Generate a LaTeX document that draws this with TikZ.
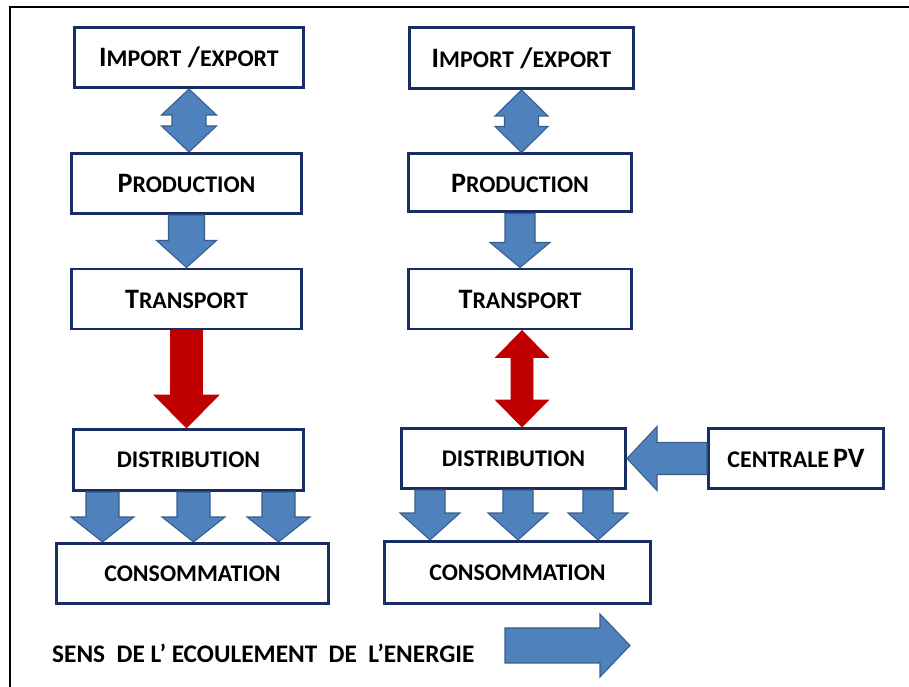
\documentclass[tikz,border=0pt]{standalone}
\usepackage{fontspec}
\setmainfont{Carlito}
\usetikzlibrary{calc}
\definecolor{boxline}{RGB}{23,45,100}
\definecolor{flowblue}{RGB}{79,129,189}
\definecolor{flowedge}{RGB}{56,93,138}
\definecolor{flowred}{RGB}{192,0,0}
\newcommand{\bigch}[1]{{\fontsize{16}{19}\selectfont #1}}
\newcommand{\smch}[1]{{\fontsize{13.6}{16}\selectfont #1}}
% block arrows: #1 style, #2 from, #3 to, #4 half shaft, #5 half head, #6 head length
\newcommand{\downarr}[6]{%
  \draw [#1] let \p1=(#2), \p2=(#3) in
    (\x1-#4,\y1) -- (\x1+#4,\y1) -- (\x1+#4,\y2+#6) -- (\x1+#5,\y2+#6)
    -- (\x1,\y2) -- (\x1-#5,\y2+#6) -- (\x1-#4,\y2+#6) -- cycle;}
\newcommand{\dblarr}[6]{%
  \draw [#1] let \p1=(#2), \p2=(#3) in
    (\x1,\y1) -- (\x1+#5,\y1-#6) -- (\x1+#4,\y1-#6) -- (\x1+#4,\y2+#6)
    -- (\x1+#5,\y2+#6) -- (\x1,\y2) -- (\x1-#5,\y2+#6) -- (\x1-#4,\y2+#6)
    -- (\x1-#4,\y1-#6) -- (\x1-#5,\y1-#6) -- cycle;}

\begin{document}
\begin{tikzpicture}[stage/.style={draw=boxline,line width=1.7pt,fill=white,
      minimum width=4.6cm,minimum height=1.2cm,inner sep=0pt,
      font=\bfseries\fontsize{13.6}{16}\selectfont},
    flow/.style={fill=flowblue,draw=flowedge,line width=0.6pt},
    hot/.style={fill=flowred,draw=flowred,line width=0.4pt}]
    \useasboundingbox (0,0) rectangle (18.18,13.74);
    % frame
    \draw [line width=1.1pt] (0.2,0) -- (0.2,13.6) -- (18.18,13.6);

    % centralised chain
    \node [stage,minimum width=4.58cm] (imp1) at (3.78,12.59)
      {\bigch{I}\smch{MPORT}\bigch{ /}\smch{EXPORT}};
    \node [stage] (prod1) at (3.73,10.07) {\bigch{P}\smch{RODUCTION}};
    \node [stage] (trans1) at (3.73,7.76) {\bigch{T}\smch{RANSPORT}};
    \node [stage,minimum height=1.22cm] (dist1) at (3.77,4.54) {DISTRIBUTION};
    \node [stage,minimum width=5.44cm] (cons1) at (3.85,2.27) {CONSOMMATION};

    \dblarr{flow}{imp1.south}{prod1.north}{0.34cm}{0.55cm}{0.52cm}
    \downarr{flow}{prod1.south}{trans1.north}{0.36cm}{0.6cm}{0.54cm}
    \downarr{hot}{trans1.south}{dist1.north}{0.32cm}{0.65cm}{0.66cm}
    \foreach \dx in {-1.72,0.1,1.8}
      \downarr{flow}{[xshift=\dx cm]dist1.south}{cons1.north}{0.33cm}{0.63cm}{0.5cm};

    % chain with PV plant
    \node [stage,minimum width=4.48cm,minimum height=1.22cm] (imp2) at (10.43,12.58)
      {\bigch{I}\smch{MPORT}\bigch{ /}\smch{EXPORT}};
    \node [stage,minimum width=4.46cm,minimum height=1.16cm] (prod2) at (10.4,10.08)
      {\bigch{P}\smch{RODUCTION}};
    \node [stage,minimum width=4.46cm] (trans2) at (10.4,7.76) {\bigch{T}\smch{RANSPORT}};
    \node [stage,minimum width=4.48cm] (dist2) at (10.27,4.57) {DISTRIBUTION};
    \node [stage,minimum width=3.5cm] (pv) at (15.92,4.57)
      {\smch{CENTRALE}\,\bigch{PV}};
    \node [stage,minimum width=5.32cm,minimum height=1.24cm] (cons2) at (10.35,2.29)
      {CONSOMMATION};

    \dblarr{flow}{imp2.south}{prod2.north}{0.34cm}{0.53cm}{0.52cm}
    \downarr{flow}{prod2.south}{trans2.north}{0.3cm}{0.6cm}{0.5cm}
    \dblarr{hot}{[xshift=0.04cm]trans2.south}{dist2.north}{0.22cm}{0.53cm}{0.54cm}
    \foreach \dx in {-1.67,0.09,1.69}
      \downarr{flow}{[xshift=\dx cm]dist2.south}{cons2.north}{0.3cm}{0.6cm}{0.54cm};
    \draw [flow] let \p1=(pv.west), \p2=(dist2.east) in
      (\x1,\y1-0.32cm) -- (\x1,\y1+0.32cm) -- (\x2+0.6cm,\y1+0.32cm)
      -- (\x2+0.6cm,\y1+0.64cm) -- (\x2,\y1) -- (\x2+0.6cm,\y1-0.64cm)
      -- (\x2+0.6cm,\y1-0.32cm) -- cycle;

    % legend
    \node [anchor=west,font=\bfseries\fontsize{14.4}{17}\selectfont] (sense) at (0.92,0.68)
      {SENS~~DE L’ ECOULEMENT~~DE~~L’ENERGIE};
    \coordinate (legtail) at (10.1,0.83);
    \coordinate (legtip) at (12.6,0.83);
    \draw [flow] let \p1=(legtail), \p2=(legtip) in
      (\x1,\y1-0.35cm) -- (\x2-0.6cm,\y1-0.35cm) -- (\x2-0.6cm,\y1-0.63cm)
      -- (\x2,\y1) -- (\x2-0.6cm,\y1+0.63cm) -- (\x2-0.6cm,\y1+0.35cm)
      -- (\x1,\y1+0.35cm) -- cycle;
\end{tikzpicture}
\end{document}
